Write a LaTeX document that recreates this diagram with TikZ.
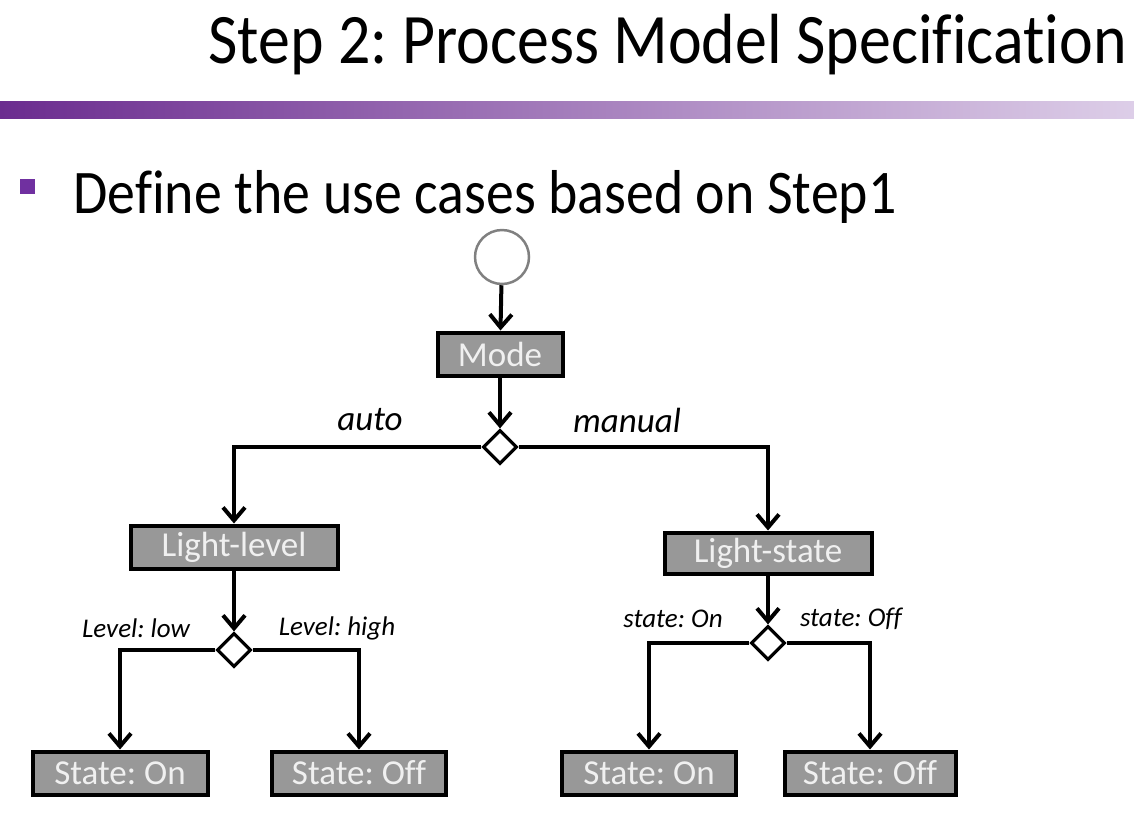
\documentclass[tikz,border=0pt]{standalone}
\usepackage{fontspec}
\setmainfont{Carlito}[Ligatures=NoCommon]
\newfontfamily\headfont{Carlito}[FakeStretch=0.9, Ligatures=NoCommon]
\usetikzlibrary{shapes.geometric, arrows.meta, positioning}
\definecolor{plum}{HTML}{6B2C8F}
\definecolor{lilac}{HTML}{DDCEE8}
\definecolor{bullet}{HTML}{7030A0}
\definecolor{boxgray}{HTML}{989898}
\definecolor{ringgray}{HTML}{808080}
\frenchspacing

\begin{document}
\begin{tikzpicture}[
  x=1pt, y=-1pt,
  act/.style={rectangle, draw=black, line width=4pt, fill=boxgray,
              text=white!94!black, minimum height=43pt, inner sep=0pt,
              font=\fontsize{35}{40}\selectfont},
  dec/.style={diamond, draw=black, line width=3.2pt, fill=white,
              minimum size=34pt, inner sep=0pt},
  init/.style={circle, draw=ringgray, line width=2.5pt, minimum size=54pt,
               inner sep=0pt},
  branch/.style={font=\fontsize{35}{40}\selectfont\itshape},
  guard/.style={font=\fontsize{27}{30}\selectfont\itshape},
  arr/.style={-{Straight Barb[length=13pt, width=22pt]}, line width=4pt},
]
\useasboundingbox (0,0) rectangle (1134,820);

% slide heading
\node[anchor=base west, font=\headfont\fontsize{71}{80}\selectfont] (title)
  at (205,63) {Step 2: Process Model Specification};
\shade[left color=plum, right color=lilac] (0,101) rectangle (1134,118);
\node[fill=bullet, minimum size=15pt, inner sep=0pt] (mark) at (27,186) {};
\node[anchor=base west, font=\headfont\fontsize{62}{70}\selectfont] (lead)
  at (70,213) {Define the use cases based on Step1};

% activity flow
\node[init] (start) at (502,257) {};
\node[act, minimum width=125pt] (mode) at (500,354) {Mode};
\node[dec] (d1) at (500,447) {};

\node[act, minimum width=207pt] (lvl) at (234,547) {Light-level};
\node[act, minimum width=207pt, minimum height=41pt] (lst) at (768,553) {Light-state};

\node[dec] (d2) at (234,650) {};
\node[dec] (d3) at (768,643) {};

\node[act, minimum width=175pt] (lon)  at (120,773) {State: On};
\node[act, minimum width=174pt] (loff) at (359,773) {State: Off};
\node[act, minimum width=174pt] (son)  at (649,773) {State: On};
\node[act, minimum width=171pt] (soff) at (870,773) {State: Off};

% guards
\node[branch] (auto) at (370,420) {auto};
\node[branch] (man)  at (627,420) {manual};
\node[guard] (glow)  at (136,628) {Level: low};
\node[guard] (ghigh) at (337,628) {Level: high};
\node[guard] (gon)   at (673,619) {state: On};
\node[guard] (goff)  at (851,619) {state: Off};

\draw[arr] (start) -- (mode);
\draw[arr] (mode) -- (d1);
\draw[arr] (d1.west) -| (lvl);
\draw[arr] (d1.east) -| (lst);
\draw[arr] (lvl) -- (d2);
\draw[arr] (lst) -- (d3);
\draw[arr] (d2.west) -| (lon);
\draw[arr] (d2.east) -| (loff);
\draw[arr] (d3.west) -| (son);
\draw[arr] (d3.east) -| (soff);
\end{tikzpicture}
\end{document}
